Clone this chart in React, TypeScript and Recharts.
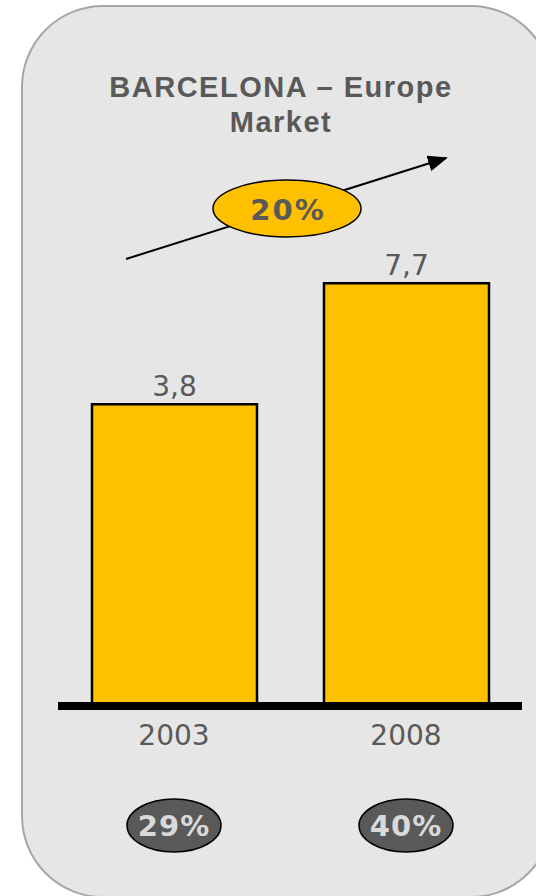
import React from "react"
import { BarChart, Bar, XAxis, YAxis, LabelList } from "recharts"

const years = ["2003", "2008"]
const marketValues = [3.8, 7.7]
const shares = ["29%", "40%"]
const growthRate = "20%"

// value axis does not start at zero in the original
const AXIS_MIN = -5.93
const AXIS_MAX = 10

const data = years.map((year, i) => ({
  year,
  value: marketValues[i],
  range: [AXIS_MIN, marketValues[i]],
  share: shares[i],
}))

const FONT = "'DejaVu Sans', Verdana, sans-serif"
const TITLE_FONT = "'Liberation Sans', Arial, sans-serif"
const GOLD = "#ffc000"
const TEXT_GRAY = "#595959"

function YearTick({ x, y, payload }: any) {
  const row = data.find((d) => d.year === payload.value)
  return (
    <g>
      <text x={x} y={y + 39} textAnchor="middle" fontFamily={FONT} fontSize={28} fill={TEXT_GRAY}>
        {payload.value}
      </text>
      <ellipse cx={x} cy={y + 119.5} rx={47} ry={26.5} fill={TEXT_GRAY} stroke="#000" strokeWidth={1.5} />
      <text
        x={x}
        y={y + 130}
        textAnchor="middle"
        fontFamily={FONT}
        fontSize={29}
        fontWeight={600}
        letterSpacing={1}
        fill="#d9d9d9"
      >
        {row?.share}
      </text>
    </g>
  )
}

export default function App() {
  return (
    <div style={{ position: "relative", width: 536, height: 896, overflow: "hidden" }}>
      <style>{`body { margin: 0; }`}</style>
      <div
        style={{
          position: "absolute",
          left: 21,
          top: 5,
          width: 532,
          height: 893,
          boxSizing: "border-box",
          border: "2px solid #a6a6a6",
          borderRadius: 82,
          background: "#e6e6e6",
        }}
      />
      <div style={{ position: "absolute", left: 0, top: 0 }}>
        <BarChart width={536} height={896} data={data} margin={{ top: 212, right: 14, bottom: 40, left: 58 }}>
          <YAxis hide type="number" domain={[AXIS_MIN, AXIS_MAX]} allowDataOverflow />
          <Bar
            dataKey="range"
            fill={GOLD}
            stroke="#000"
            strokeWidth={2.5}
            barSize={165}
            isAnimationActive={false}
          >
            <LabelList
              dataKey="value"
              position="top"
              offset={8}
              formatter={(v: any) => String(v).replace(".", ",")}
              style={{ fontFamily: FONT, fontSize: 28, fill: TEXT_GRAY }}
            />
          </Bar>
          <XAxis
            dataKey="year"
            height={150}
            interval={0}
            tickLine={false}
            tickSize={0}
            tickMargin={0}
            axisLine={{ stroke: "#000", strokeWidth: 8 }}
            tick={<YearTick />}
          />
        </BarChart>
      </div>
      <svg
        width={536}
        height={896}
        style={{ position: "absolute", left: 0, top: 0, pointerEvents: "none" }}
      >
        <defs>
          <marker id="arrowHead" markerWidth="10" markerHeight="8" refX="9" refY="4" orient="auto">
            <path d="M0,0 L10,4 L0,8 Z" fill="#000" />
          </marker>
        </defs>
        <text
          textAnchor="middle"
          fontFamily={TITLE_FONT}
          fontWeight="bold"
          fontSize={29}
          letterSpacing={1.5}
          fill={TEXT_GRAY}
        >
          <tspan x={281} y={97}>BARCELONA – Europe</tspan>
          <tspan x={281} y={132}>Market</tspan>
        </text>
        <line x1={126} y1={259} x2={446} y2={158} stroke="#000" strokeWidth={2} markerEnd="url(#arrowHead)" />
        <ellipse cx={287} cy={208.5} rx={74} ry={28.5} fill={GOLD} stroke="#000" strokeWidth={1.5} />
        <text
          x={288}
          y={220}
          textAnchor="middle"
          fontFamily={FONT}
          fontWeight="bold"
          fontSize={29}
          letterSpacing={2}
          fill={TEXT_GRAY}
        >
          {growthRate}
        </text>
      </svg>
    </div>
  )
}
